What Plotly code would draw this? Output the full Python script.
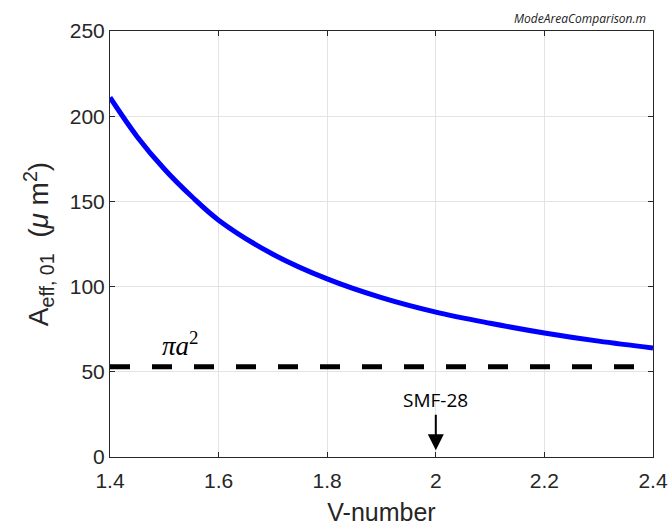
import plotly.graph_objects as go

v_number = [1.4, 1.45, 1.5, 1.55, 1.6, 1.7, 1.8, 1.9, 2.0, 2.1, 2.2, 2.3, 2.4]
aeff = [211, 188, 169, 153, 139, 119, 104.5, 93.5, 85, 78.5, 72.8, 68, 64]
core_area = 53
x_ticks = [1.4, 1.6, 1.8, 2.0, 2.2, 2.4]
x_tick_text = ["1.4", "1.6", "1.8", "2", "2.2", "2.4"]
y_ticks = [0, 50, 100, 150, 200, 250]

fig = go.Figure()
fig.add_trace(go.Scatter(x=v_number, y=aeff, mode="lines",
                         line=dict(color="#0000FF", width=5, shape="spline"),
                         showlegend=False, hoverinfo="skip"))
fig.add_trace(go.Scatter(x=[1.4, 2.4], y=[core_area, core_area], mode="lines",
                         line=dict(color="black", width=5, dash="20px,22px"),
                         showlegend=False, hoverinfo="skip"))

axis_common = dict(showgrid=True, gridcolor="#E3E3E3", gridwidth=1,
                   showline=True, linecolor="#262626", linewidth=1, mirror="ticks",
                   ticks="inside", ticklen=5, tickcolor="#262626",
                   tickfont=dict(family="Liberation Sans, Arial", size=21, color="#262626"),
                   zeroline=False, automargin=False)

fig.update_xaxes(range=[1.4, 2.4], tickvals=x_ticks, ticktext=x_tick_text,
                 ticklabelstandoff=5,
                 title=dict(text="V-number", font=dict(family="Liberation Sans, Arial", size=25, color="#262626"), standoff=12),
                 **axis_common)
fig.update_yaxes(range=[0, 250], tickvals=y_ticks,
                 title=dict(text="A<sub>eff, 01</sub>  (<i>μ</i> m<sup>2</sup>)",
                            font=dict(family="Liberation Sans, Arial", size=28, color="#262626"), standoff=12),
                 **axis_common)

fig.add_annotation(x=1.529, y=core_area, yanchor="bottom", yshift=4, showarrow=False,
                   text="<i>πa</i><sup>2</sup>",
                   font=dict(family="Liberation Serif, Times New Roman", size=27, color="black"))
fig.add_annotation(x=2.0, y=4, ax=0, ay=-50, showarrow=True, arrowhead=2, arrowsize=1.6,
                   arrowwidth=2, arrowcolor="black", text="SMF-28",
                   font=dict(family="Open Sans, Liberation Sans", size=19, color="black"))
fig.add_annotation(xref="paper", yref="paper", x=0.991, y=1.0, yshift=13, xanchor="right",
                   yanchor="middle", showarrow=False, text="<i>ModeAreaComparison.m</i>",
                   font=dict(family="Open Sans, Liberation Sans", size=12, color="#222222"))

fig.update_layout(width=672, height=529, margin=dict(l=110, r=19, t=31, b=72),
                  paper_bgcolor="white", plot_bgcolor="white")
fig.write_html("out.html")
